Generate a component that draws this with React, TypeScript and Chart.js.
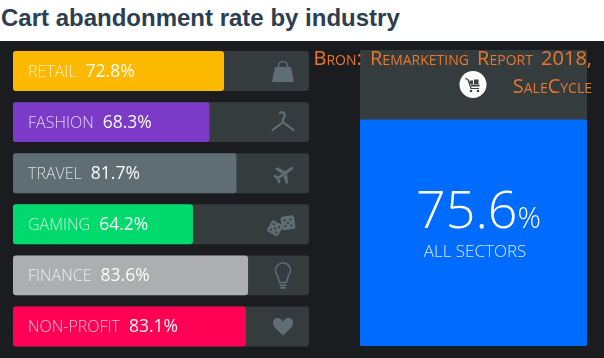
import React, { useEffect, useRef } from "react";
import { Chart, registerables } from "chart.js";

Chart.register(...registerables);

const TITLE = "Cart abandonment rate by industry";
const SOURCE_LINES = ["Bron: Remarketing Report 2018,", "SaleCycle"];
const categories = ["RETAIL", "FASHION", "TRAVEL", "GAMING", "FINANCE", "NON-PROFIT"];
// Printed rates, as the labels read.
const rateLabels = ["72.8%", "68.3%", "81.7%", "64.2%", "83.6%", "83.1%"];
// The fill of each bar as measured on the picture, in percent of its track.
const barFill = [71.3, 66.4, 75.5, 60.8, 79.4, 78.7];
const trackFull = [100, 100, 100, 100, 100, 100];
const barColors = ["#fdb900", "#7b3ac8", "#5f6e75", "#00d96b", "#adaeb0", "#ff0055"];
const allSectorsValue = "75.6";
const allSectorsLabel = "ALL SECTORS";
const allSectorsFill = [76.4];
const allSectorsTrack = [100];

const TRACK = "#343c3e";
const ICON = "#5f6e75";
const BG = "#1b1c20";
const FONT = "'Open Sans'";

function drawIcon(c: CanvasRenderingContext2D, i: number, x: number, y: number) {
  c.save();
  c.translate(x, y);
  c.fillStyle = ICON;
  c.strokeStyle = ICON;
  c.lineCap = "round";
  c.lineJoin = "round";
  if (i === 0) {
    c.beginPath();
    c.moveTo(-8, -4); c.lineTo(8, -4); c.lineTo(11, 11); c.lineTo(-11, 11); c.closePath(); c.fill();
    c.lineWidth = 1.5;
    c.beginPath(); c.arc(0, -5, 4.5, Math.PI, 0); c.lineTo(4.5, 0); c.moveTo(-4.5, -5); c.lineTo(-4.5, 0); c.stroke();
  } else if (i === 1) {
    c.lineWidth = 2.2;
    c.beginPath();
    c.moveTo(-10.5, 8); c.lineTo(0, 0); c.lineTo(10.5, 8);
    c.moveTo(0, 0); c.lineTo(0, -3); c.arc(-1, -7, 2.8, 0.6, -2.4, true);
    c.stroke();
  } else if (i === 2) {
    c.translate(2, 0);
    c.rotate(-Math.PI / 5);
    c.scale(0.8, 0.8);
    c.beginPath();
    c.moveTo(-13, -1.5); c.lineTo(10, -2); c.quadraticCurveTo(15, 0, 10, 2); c.lineTo(-13, 1.5); c.closePath();
    c.moveTo(2, -2); c.lineTo(-4, -12); c.lineTo(-7, -12); c.lineTo(-4, -2); c.closePath();
    c.moveTo(2, 2); c.lineTo(-4, 12); c.lineTo(-7, 12); c.lineTo(-4, 2); c.closePath();
    c.moveTo(-13, -1); c.lineTo(-14, -6); c.lineTo(-11, -6); c.lineTo(-9, -1); c.closePath();
    c.moveTo(-13, 1); c.lineTo(-14, 6); c.lineTo(-11, 6); c.lineTo(-9, 1); c.closePath();
    c.fill();
  } else if (i === 3) {
    const die = (dx: number, dy: number, a: number, s: number, pips: number[][]) => {
      c.save();
      c.translate(dx, dy); c.rotate(a);
      c.fillStyle = ICON;
      c.beginPath(); c.roundRect(-s, -s, 2 * s, 2 * s, 2); c.fill();
      c.fillStyle = TRACK;
      pips.forEach(([px, py]) => { c.beginPath(); c.arc(px, py, 1.1, 0, 7); c.fill(); });
      c.restore();
    };
    die(-8, 4, 0.5, 6.3, [[-3, -3], [3, -3], [-3, 3], [3, 3], [0, 0]]);
    die(5, -1.5, -0.15, 6.8, [[-3, -3], [3, -3], [-3, 3], [3, 3], [0, 0]]);
  } else if (i === 4) {
    c.lineWidth = 1.5;
    c.beginPath();
    c.arc(0, -5, 7.5, 0.75, Math.PI - 0.75, true);
    c.lineTo(-3.5, 7); c.lineTo(3.5, 7); c.closePath();
    c.stroke();
    c.lineWidth = 1.6;
    c.beginPath(); c.moveTo(-3, 10); c.lineTo(3, 10); c.moveTo(-2, 12.5); c.lineTo(2, 12.5); c.stroke();
  } else {
    c.beginPath();
    c.moveTo(0, 9);
    c.bezierCurveTo(-5, 4, -10, 1, -10, -3.5);
    c.bezierCurveTo(-10, -10, -2, -10, 0, -4.5);
    c.bezierCurveTo(2, -10, 10, -10, 10, -3.5);
    c.bezierCurveTo(10, 1, 5, 4, 0, 9);
    c.fill();
  }
  c.restore();
}

const barLabels = {
  id: "barLabels",
  afterDatasetsDraw(chart: any) {
    const c = chart.ctx as CanvasRenderingContext2D;
    const bars = chart.getDatasetMeta(0).data;
    c.save();
    c.textBaseline = "middle";
    c.textAlign = "left";
    bars.forEach((b: any, i: number) => {
      c.font = `300 16px ${FONT}`;
      c.fillStyle = "rgba(255,255,255,0.76)";
      c.fillText(categories[i], 28, b.y + 1);
      const w = c.measureText(categories[i]).width;
      c.font = `500 17.5px ${FONT}`;
      c.fillStyle = "rgba(255,255,255,0.96)";
      c.fillText(rateLabels[i], 28 + w + 9, b.y + 1);
      drawIcon(c, i, 283, b.y);
    });
    c.restore();
  },
};

const panelLabels = {
  id: "panelLabels",
  afterDatasetsDraw(chart: any) {
    const c = chart.ctx as CanvasRenderingContext2D;
    const a = chart.chartArea;
    const cx = (a.left + a.right) / 2;
    c.save();
    c.fillStyle = "#fff";
    c.textBaseline = "alphabetic";
    c.textAlign = "left";
    c.font = `350 52px ${FONT}`;
    const w1 = c.measureText(allSectorsValue).width;
    c.font = `300 29px ${FONT}`;
    const w2 = c.measureText("%").width;
    const x0 = cx + 5 - (w1 + w2) / 2;
    c.font = `350 52px ${FONT}`;
    c.fillText(allSectorsValue, x0, 187);
    c.font = `300 29px ${FONT}`;
    c.fillText("%", x0 + w1, 187);
    c.textAlign = "center";
    c.font = `300 17px ${FONT}`;
    c.fillStyle = "rgba(255,255,255,0.85)";
    c.fillText(allSectorsLabel, cx + 1.5, 216);

    // Cart badge
    c.translate(cx - 0.5, 43.5);
    c.fillStyle = "#fff";
    c.beginPath(); c.arc(0, 0, 13.5, 0, 7); c.fill();
    c.fillStyle = "#3a3f42";
    c.strokeStyle = "#3a3f42";
    c.lineWidth = 1.2;
    c.beginPath(); c.moveTo(-8, -6); c.lineTo(-5, -5); c.lineTo(-2, 4); c.lineTo(6, 4); c.stroke();
    c.fillRect(-3.5, -4, 3.5, 3.5);
    c.fillRect(1, -5, 4.5, 4.5);
    c.fillRect(-2, 0, 8.5, 2);
    c.beginPath(); c.arc(-2, 6.5, 1.3, 0, 7); c.arc(5, 6.5, 1.3, 0, 7); c.fill();
    c.restore();
  },
};

export default function App() {
  const leftRef = useRef<HTMLCanvasElement>(null);
  const rightRef = useRef<HTMLCanvasElement>(null);

  useEffect(() => {
    document.body.style.margin = "0";
    const hidden = {
      legend: { display: false },
      title: { display: false },
      tooltip: { enabled: false },
    };
    const left = new Chart(leftRef.current!, {
      type: "bar",
      data: {
        labels: categories,
        datasets: [
          { data: barFill, backgroundColor: barColors, borderRadius: 3, borderSkipped: false, order: 1 },
          { data: trackFull, backgroundColor: TRACK, borderRadius: 3, borderSkipped: false, order: 2 },
        ],
      },
      options: {
        indexAxis: "y",
        animation: false,
        responsive: false,
        layout: { padding: { left: 13, right: 31, top: 4.5, bottom: 6 } },
        plugins: hidden,
        datasets: { bar: { grouped: false, categoryPercentage: 1, barPercentage: 0.78 } },
        scales: {
          x: { display: false, min: 0, max: 100 },
          y: { display: false },
        },
      } as any,
      plugins: [barLabels],
    });
    const right = new Chart(rightRef.current!, {
      type: "bar",
      data: {
        labels: [allSectorsLabel],
        datasets: [
          { data: allSectorsFill, backgroundColor: "#006cff", borderRadius: 3, borderSkipped: false, order: 1 },
          { data: allSectorsTrack, backgroundColor: TRACK, borderRadius: 3, borderSkipped: false, order: 2 },
        ],
      },
      options: {
        animation: false,
        responsive: false,
        layout: { padding: { left: 20, right: 17, top: 9, bottom: 12 } },
        plugins: hidden,
        datasets: { bar: { grouped: false, categoryPercentage: 1, barPercentage: 1 } },
        scales: {
          x: { display: false },
          y: { display: false, min: 0, max: 100 },
        },
      } as any,
      plugins: [panelLabels],
    });
    return () => {
      left.destroy();
      right.destroy();
    };
  }, []);

  return (
    <div style={{ position: "relative", width: 604, height: 358, overflow: "hidden", background: "#fff" }}>
      <div
        style={{
          position: "absolute", left: 1, top: 3, lineHeight: "30px", whiteSpace: "nowrap",
          font: "bold 24px/30px 'Liberation Sans', Arial, sans-serif", color: "#2c3e50",
        }}
      >
        {TITLE}
      </div>
      <div style={{ position: "absolute", left: 0, top: 41, width: 604, height: 317, background: BG }}>
        <canvas ref={leftRef} width={340} height={317} style={{ position: "absolute", left: 0, top: 0 }} />
        <canvas ref={rightRef} width={264} height={317} style={{ position: "absolute", left: 340, top: 0 }} />
      </div>
      <div
        style={{
          position: "absolute", right: 12, top: 44, width: 320, textAlign: "right", wordSpacing: 3,
          font: "small-caps 400 20px/28px 'Open Sans', sans-serif", color: "#e9772d",
        }}
      >
        {SOURCE_LINES[0]}
        <br />
        {SOURCE_LINES[1]}
      </div>
    </div>
  );
}
